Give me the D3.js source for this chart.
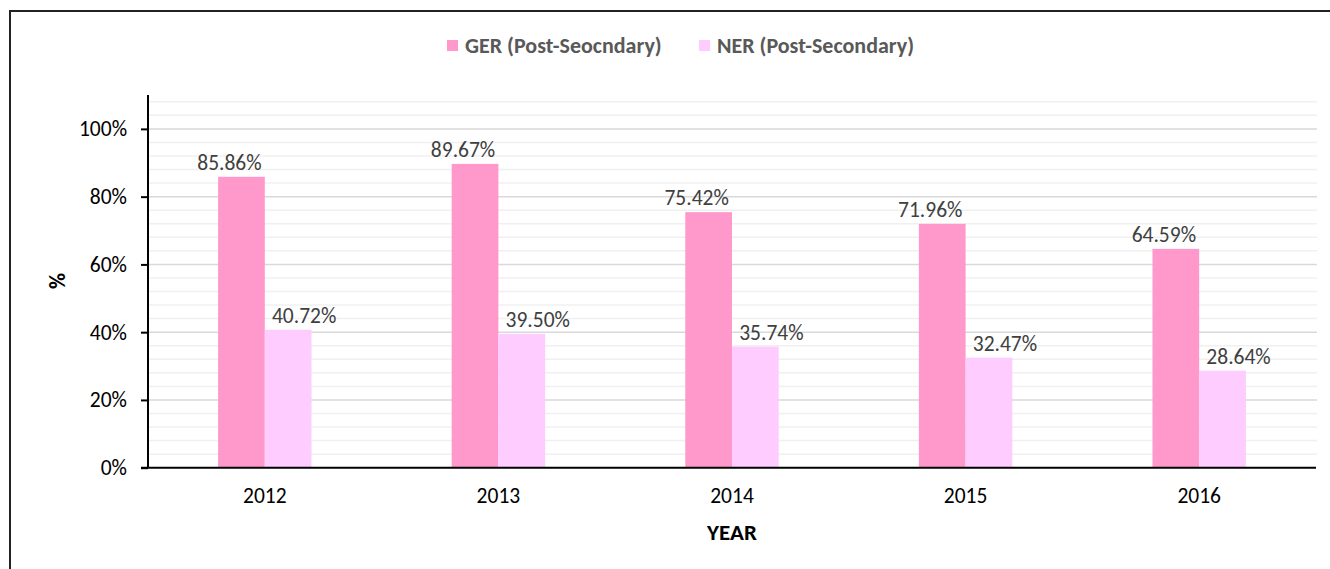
<!DOCTYPE html>
<html>
<head>
<meta charset="utf-8">
<script src="https://cdn.jsdelivr.net/npm/d3@7"></script>
<style>
  html, body { margin: 0; padding: 0; background: #fff; }
  svg { display: block; font-family: Carlito, Calibri, "Liberation Sans", sans-serif; }
</style>
</head>
<body>
<svg id="chart" width="1330" height="569"></svg>
<script>
// chart data
const years = ["2012", "2013", "2014", "2015", "2016"];
const seriesNames = ["GER (Post-Seocndary)", "NER (Post-Secondary)"];
const gerValues = [85.86, 89.67, 75.42, 71.96, 64.59];
const nerValues = [40.72, 39.50, 35.74, 32.47, 28.64];
const yTicks = [0, 20, 40, 60, 80, 100];

const colors = ["#FF99CC", "#FFCCFF"];
const labelShift = [-12, 16]; // excel put the labels a bit off-centre
const font = "Carlito, Calibri, 'Liberation Sans', sans-serif";

const svg = d3.select("#chart");
const margin = { left: 148, right: 1316, top: 95, bottom: 467.7 };

// outer frame (only top and left edges are inside the picture)
svg.append("path")
    .attr("d", "M10,569 L10,11 L1330,11")
    .attr("fill", "none")
    .attr("stroke", "#222")
    .attr("stroke-width", 2);

const x = d3.scaleBand()
    .domain(years)
    .range([margin.left, margin.right])
    .paddingInner(0.6)
    .paddingOuter(0.3);

const xSub = d3.scaleBand()
    .domain([0, 1])
    .range([0, x.bandwidth()]);

const y = d3.scaleLinear()
    .domain([0, 110])
    .range([margin.bottom, margin.top]);

// minor grid every 4%
const minor = d3.range(4, 110, 4).filter(v => v % 20 !== 0);
svg.append("g").selectAll("line")
    .data(minor)
    .join("line")
    .attr("x1", margin.left).attr("x2", margin.right + 1)
    .attr("y1", d => y(d)).attr("y2", d => y(d))
    .attr("stroke", "#f0f0f0")
    .attr("stroke-width", 1.5);

svg.append("g").selectAll("line")
    .data(yTicks.slice(1))
    .join("line")
    .attr("x1", margin.left).attr("x2", margin.right + 1)
    .attr("y1", d => y(d)).attr("y2", d => y(d))
    .attr("stroke", "#d9d9d9")
    .attr("stroke-width", 1.5);

// bars
const rows = years.map((yr, i) => ({ year: yr, vals: [gerValues[i], nerValues[i]] }));

const groups = svg.append("g").selectAll("g")
    .data(rows)
    .join("g")
    .attr("transform", d => `translate(${x(d.year)},0)`);

groups.selectAll("rect")
    .data(d => d.vals.map((v, s) => ({ v, s })))
    .join("rect")
    .attr("x", d => xSub(d.s))
    .attr("width", xSub.bandwidth())
    .attr("y", d => y(d.v))
    .attr("height", d => y(0) - y(d.v))
    .attr("fill", d => colors[d.s]);

groups.selectAll("text")
    .data(d => d.vals.map((v, s) => ({ v, s })))
    .join("text")
    .attr("x", d => xSub(d.s) + xSub.bandwidth() / 2 + labelShift[d.s])
    .attr("y", d => y(d.v) - 7)
    .attr("text-anchor", "middle")
    .attr("fill", "#404040")
    .attr("font-size", 21.5)
    .text(d => d.v.toFixed(2) + "%");

// axes
const yAxis = svg.append("g")
    .attr("transform", `translate(${margin.left},0)`)
    .call(d3.axisLeft(y).tickValues(yTicks).tickFormat(d => d + "%").tickSize(7).tickPadding(14));
yAxis.attr("font-family", font);
yAxis.select(".domain").attr("d", `M0,${margin.top}V${margin.bottom}`).attr("stroke-width", 2);
yAxis.selectAll(".tick line").attr("stroke-width", 2);
yAxis.selectAll(".tick text").attr("font-size", 21.5).attr("fill", "#000");

const xAxis = svg.append("g")
    .attr("transform", `translate(0,${margin.bottom})`)
    .call(d3.axisBottom(x).tickSize(0).tickPadding(20));
xAxis.attr("font-family", font);
xAxis.select(".domain").attr("d", `M${margin.left - 7},0H${margin.right}`).attr("stroke-width", 2);
xAxis.selectAll(".tick text").attr("font-size", 21.5).attr("fill", "#000");

// axis titles
svg.append("text")
    .attr("x", (margin.left + margin.right) / 2)
    .attr("y", 540)
    .attr("text-anchor", "middle")
    .attr("font-size", 23)
    .attr("font-weight", "bold")
    .text("YEAR");

svg.append("text")
    .attr("transform", "translate(65,281) rotate(-90)")
    .attr("text-anchor", "middle")
    .attr("font-size", 22)
    .attr("font-weight", "bold")
    .text("%");

// legend
const legendX = [447, 699];
const legend = svg.append("g").selectAll("g")
    .data(seriesNames)
    .join("g")
    .attr("transform", (d, i) => `translate(${legendX[i]},40)`);
legend.append("rect")
    .attr("width", 11).attr("height", 11)
    .attr("fill", (d, i) => colors[i]);
legend.append("text")
    .attr("x", 18).attr("y", 12.5)
    .attr("font-size", 22)
    .attr("font-weight", "bold")
    .attr("fill", "#595959")
    .text(d => d);
</script>
</body>
</html>
